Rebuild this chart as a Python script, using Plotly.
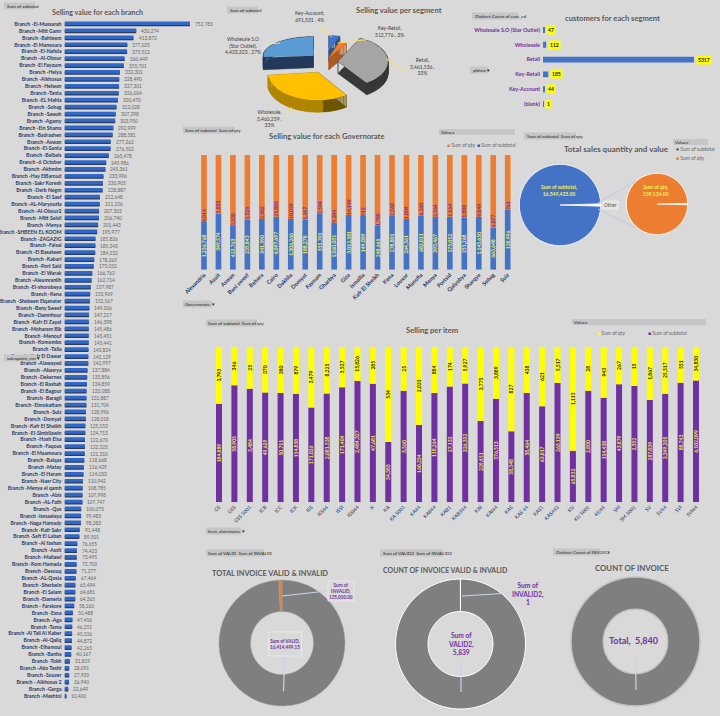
import math
import plotly.graph_objects as go

W, H = 720, 716
BG = "#d9d9d9"
FONT = "Lato"
NARROW = "Liberation Sans Narrow, Lato"

# ---------- data ----------
branch_names = ["El-Mussarah","Mitt Gamr","Bahteem","El Mansoura","El-Nahda","Al-Obour","El Fayoum","Helya","Alkhosus","Helwan","Tanta","EL Mahla","Sohag","Sawah","Agamy","Ein Shams","Badrashen","Aswan","El-Santa","Belbais","6 October","Akhmim","Hay ElBaroud","Sakr Koresh","Derb Negm","El Saef","AL-Maryoutia","Al-Obour2","Mitt Selsil","Menya","SHBEEN EL KOOM","ZAGAZIG","Faisal","El Basateen","Kabari","Port Said","El Warak","Aleumraniih","El-shorobeya","Kena","Shebeen Elqanater","Bany Sweef","Damnhour","Kafr El Zayat","Moharam Bik","Menouf","Komombo","Talla","Kafr El Dawar","Alawayed","Abasrya","Dekernes","El Rashah","El Bagour","Baragil","Elmokattam","Suiz","Domyat","Kafr El Sheikh","El-Simbllawin","Hosh Eisa","Faqous","El Maamoura","Balqas","Matay","El Haram","Nasr City","Menya el qamh","Abis","AL-Fath","Qus","Ismaeleya","Naga Hamady","Kafr Sakr","Saft El Laban","Al fashan","Assit","Mallawi","Kom Hamada","Desouq","AL-Qosia","Sherbein","El Salam","Elameria"," Farskore","Esna","Aga","Tama","Al Tall Al Kaber","Al-Qaliq","Elhamoul","Banha","Tokh","Abo Tesht","Souzer"," Alkhosus 2","Gerga","Mashtol"]
branch_values = [752783,430274,413872,377025,375512,360449,355701,332301,328490,327301,326004,320470,312028,307398,303950,292999,288581,277262,276502,265478,249986,245361,233996,230905,228887,212648,211226,207303,206740,201443,195977,185826,185243,184232,178265,175052,166762,162714,157987,153969,152567,149206,147217,146398,145486,145451,145441,143824,143129,142997,137884,135896,134859,132088,131887,131704,128996,128018,125153,124713,122670,122525,121310,118668,116429,114033,110942,108785,107998,107747,100073,99483,98283,91448,89501,76655,74423,73495,72703,71377,67464,65494,64681,64365,58260,50488,47456,46251,45526,44872,42265,40167,31819,28091,27933,26940,22649,10400]

segments = ["Key-Account","Key-Retail","Retail","Wholesale","Wholesale S.O (Star Outlet)"]
segment_values = [691531,512776,5461536,5460259,4423323]
segment_colors = ["#4472c4","#ed7d31","#a5a5a5","#ffc000","#5b9bd5"]
segment_dark = ["#2f528f","#ad5a22","#404040","#b08600","#22395a"]
segment_dark_right = ["#2f528f","#ad5a22","#383838","#6e5600","#22395a"]

cust_segments = ["Wholesale S.O (Star Outlet)","Wholesale","Retail","Key-Retail","Key-Account","(blank)"]
cust_counts = [47,112,5317,185,44,1]

governorates = ["Alexandria","Asuit","Aswan","Bani sweef","Behera","Cairo","Dakhlia","Domyat","Fayoum","Gharbya","Giza","Ismailia","Kafr El Sheikh","Kena","Louxor","Manofia","Menya","Portsid","Qalyobya","Sharqya","Sohag","Suiz"]
gov_subtotal = [1236768,349574,423763,235843,341590,4097697,1306266,188278,355701,1060031,3012581,149009,248661,278801,264561,682021,393467,175052,251268,1145650,663648,128996]
gov_qty = [8014,1835,3330,1526,2302,25805,10059,1287,2594,9284,14199,912,1789,2260,1804,6260,2564,1164,1800,9849,6077,761]
gov_subtotal_share = [.416,.491,.381,.436,.442,.462,.442,.436,.485,.41,.477,.468,.381,.468,.442,.471,.459,.462,.453,.462,.369,.52]

items = ["GS","GSS","GSS 5001","ICB","ICC","ICK","ISS","ISS44","ISSI","ISSI44","K","KA","KA 5001","KA44","KA844","KAB1","KAB344","KAI","KAI44","KAS","KAS 44","KAS1","KAS443","KIJ","KIJ 5001","KIJ44","SM","SM 5001","SV","SV44","SVI","SVI44"]
item_subtotal = [184889,58905,3484,49629,50711,114838,171026,2081538,171404,2484327,47681,34383,3560,160234,118264,27132,326332,229451,376513,58348,58464,63817,263139,65832,2800,114438,43879,2352,287839,3349205,88743,6102099]
item_qty = [3793,346,25,370,380,879,3479,8225,3527,15826,285,534,25,2033,884,174,5927,3775,3889,827,438,621,5517,1115,28,943,267,15,1867,25517,551,34830]
item_subtotal_share = [.634,.752,.730,.705,.702,.698,.610,.700,.739,.779,.762,.388,.717,.497,.702,.745,.764,.522,.666,.456,.702,.617,.767,.332,.717,.672,.758,.747,.657,.698,.769,.782]

total_subtotal = 16549425
total_qty = 159126
qty_pie_rest = 1100
valid_total, invalid_total = 16414499.15, 135000
valid_count, invalid_count = 5839, 1
invoice_count = 5840

# ---------- pixel helpers ----------
def xd(a, b): return [a / W, b / W]
def yd(top, bottom): return [1 - bottom / H, 1 - top / H]

fig = go.Figure()
ann = []
shp = []

def txt(x, y, s, size=6, color="#595959", bold=False, bg=None, border=None, xa="center", pad=0, align="center", family=FONT):
    d = dict(xref="paper", yref="paper", x=x / W, y=1 - y / H, text=s, showarrow=False,
             xanchor=xa, yanchor="middle", align=align, borderpad=pad,
             font=dict(family=family, size=size, color=color, weight=700 if bold else 400))
    if bg: d["bgcolor"] = bg
    if border: d["bordercolor"] = border; d["borderwidth"] = 1
    ann.append(d)

def tag(x0, x1, y, s):
    shp.append(dict(type="rect", xref="paper", yref="paper", x0=x0 / W, x1=x1 / W, y0=1 - (y - 3.5) / H, y1=1 - (y + 3.5) / H,
                    fillcolor="#c6c6c6", line_width=0, layer="above"))
    txt(x0 + 1.5, y, s, size=4.6, color="#222222", xa="left", family=NARROW)

def line(x0, y0, x1, y1, color, w=1):
    shp.append(dict(type="line", xref="paper", yref="paper", x0=x0 / W, x1=x1 / W, y0=1 - y0 / H, y1=1 - y1 / H,
                    line=dict(color=color, width=w), layer="above"))

def title(x, y, s, size=7.6, color="#595959"):
    txt(x, y, s, size=size, color=color, bold=True)

# ---------- branch bars ----------
fig.add_bar(x=branch_values, y=branch_names, orientation="h", width=.46, offset=-.12,
            marker=dict(color="#2b3c5e", line_width=0), xaxis="x", yaxis="y", hoverinfo="skip")
fig.add_bar(x=branch_values, y=branch_names, orientation="h", width=.5, offset=-.34,
            marker=dict(color="#2f68c8", line_width=0), xaxis="x", yaxis="y", hoverinfo="skip")
for n_, v in zip(branch_names, branch_values):
    ann.append(dict(xref="x", yref="y", x=v, y=n_, text=f"{v:,}", showarrow=False, xanchor="left", xshift=3,
                    font=dict(family=NARROW, size=4.8, color="#666666")))
branch_labels = ["Branch -" + n for n in branch_names]
xaxes = dict(xaxis=dict(domain=xd(64.5, 190), range=[0, 752783], visible=False, fixedrange=True),
             yaxis=dict(domain=yd(20.5, 699.5), range=[97.5, -.5], type="category", anchor="x", tickmode="array",
                        tickvals=branch_names, ticktext=branch_labels, showgrid=False, ticks="", showline=False,
                        ticklabelstandoff=2,
                        tickfont=dict(family=NARROW, size=5.1, color="#1f3864", weight=700), fixedrange=True))

# ---------- customers per segment ----------
fig.add_bar(x=cust_counts, y=cust_segments, orientation="h", width=.4, marker=dict(color="#4472c4", line_width=0),
            xaxis="x2", yaxis="y2", hoverinfo="skip")
xaxes.update(xaxis2=dict(domain=xd(543, 694), range=[0, 5317], visible=False, anchor="y2", fixedrange=True),
             yaxis2=dict(domain=yd(22.6, 111.4), range=[5.5, -.5], type="category", anchor="x2", tickmode="array",
                         tickvals=cust_segments, ticktext=cust_segments, showgrid=False, ticks="", showline=False,
                         ticklabelstandoff=2,
                         tickfont=dict(family=NARROW, size=5.4, color="#7030a0", weight=700), fixedrange=True))
for c, v in zip(cust_segments, cust_counts):
    ann.append(dict(xref="x2", yref="y2", x=v, y=c, text=str(v), showarrow=False, xanchor="left", xshift=2,
                    bgcolor="#ffff00", borderpad=1, font=dict(family=NARROW, size=5, color="#222222", weight=700)))

# ---------- stacked 100 % columns ----------
def stacked(cats, low, high, share, low_col, high_col, low_txt, high_txt, xn, yn, high_anchor):
    rest = [1 - s for s in share]
    fig.add_bar(x=cats, y=share, width=.39, marker=dict(color=low_col, line_width=0), xaxis=xn, yaxis=yn,
                text=[f"{v:,}" for v in low], textposition="inside", insidetextanchor="middle", textangle=-90,
                constraintext="none", textfont=dict(family=NARROW, size=5, color=low_txt, weight=700), hoverinfo="skip")
    fig.add_bar(x=cats, y=rest, base=share, width=.39, marker=dict(color=high_col, line_width=0), xaxis=xn, yaxis=yn,
                text=[f"{v:,}" for v in high], textposition="inside", insidetextanchor=high_anchor, textangle=-90,
                constraintext="none", textfont=dict(family=NARROW, size=5, color=high_txt, weight=700), hoverinfo="skip")

stacked(governorates, gov_subtotal, gov_qty, gov_subtotal_share, "#4472c4", "#ed7d31", "#f2f25a", "#7030a0", "x3", "y3", "start")
n = len(governorates)
xaxes.update(xaxis3=dict(domain=xd(204 - 7.23, 507.7 + 7.23), range=[-.5, n - .5], type="category", anchor="y3", tickmode="array",
                         tickvals=governorates, ticktext=governorates, tickangle=-45, showgrid=False, ticks="", showline=False,
                         tickfont=dict(family=NARROW, size=5.6, color="#1f3864", weight=700), fixedrange=True),
             yaxis3=dict(domain=yd(155, 269.7), range=[0, 1], visible=False, anchor="x3", fixedrange=True))

stacked(items, item_subtotal, item_qty, item_subtotal_share, "#7030a0", "#ffff00", "#f2e94e", "#222222", "x4", "y4", "middle")
m = len(items)
xaxes.update(xaxis4=dict(domain=xd(219 - 7.68, 696 + 7.68), range=[-.5, m - .5], type="category", anchor="y4", tickmode="array",
                         tickvals=items, ticktext=items, tickangle=-45, showgrid=False, ticks="", showline=False,
                         tickfont=dict(family=NARROW, size=5, color="#1f3864"), fixedrange=True),
             yaxis4=dict(domain=yd(346.7, 502.3), range=[0, 1], visible=False, anchor="x4", fixedrange=True))

# ---------- exploded 3-D segment pie, angles computed from the values ----------
xaxes.update(xaxis5=dict(domain=[0, 1], range=[0, W], visible=False, anchor="y5", fixedrange=True),
             yaxis5=dict(domain=[0, 1], range=[H, 0], visible=False, anchor="x5", fixedrange=True))
PC = (326, 62)
seg_pull = [22, 8, 12, 20, 17]
seg_rx = [42, 40, 50, 50, 50]
seg_ry = [14, 16, 26, 28, 19]
DEPTH = 12
tot = sum(segment_values)
spans, acc = [], 0
for v in segment_values:
    spans.append((acc / tot * 2 * math.pi, (acc + v) / tot * 2 * math.pi))
    acc += v
for i in [4, 0, 1, 2, 3]:
    a0, a1 = spans[i]
    mid = (a0 + a1) / 2
    ax = PC[0] + seg_pull[i] * math.sin(mid)
    ay = PC[1] - seg_pull[i] * math.cos(mid) * .56
    steps = max(4, int((a1 - a0) * 30))
    pts = [(ax, ay)] + [(ax + seg_rx[i] * math.sin(a0 + (a1 - a0) * k / steps),
                         ay - seg_ry[i] * math.cos(a0 + (a1 - a0) * k / steps)) for k in range(steps + 1)] + [(ax, ay)]
    lx, ly, rx_, ry_ = [], [], [], []
    for (x0, y0), (x1, y1) in zip(pts[:-1], pts[1:]):
        tx, ty = (rx_, ry_) if (x0 + x1) / 2 > ax + 6 else (lx, ly)
        tx += [x0, x1, x1, x0, x0, None]
        ty += [y0, y1, y1 + DEPTH, y0 + DEPTH, y0, None]
    for qx, qy, col in [(lx, ly, segment_dark[i]), (rx_, ry_, segment_dark_right[i])]:
        if qx:
            fig.add_scatter(x=qx, y=qy, mode="lines", fill="toself", fillcolor=col, line=dict(width=.5, color=col),
                            xaxis="x5", yaxis="y5", hoverinfo="skip", showlegend=False)
    fig.add_scatter(x=[p[0] for p in pts], y=[p[1] for p in pts], mode="lines", fill="toself", fillcolor=segment_colors[i],
                    line=dict(width=0, color=segment_colors[i]), xaxis="x5", yaxis="y5", hoverinfo="skip", showlegend=False)

# ---------- native pies ----------
def pie(values, colors, cx, cy, r, hole=0, rotation=0, lw=1, lc="#ffffff"):
    fig.add_pie(values=values, domain=dict(x=xd(cx - r, cx + r), y=yd(cy - r, cy + r)), hole=hole, rotation=rotation,
                sort=False, direction="clockwise", textinfo="none", hoverinfo="skip", showlegend=False,
                marker=dict(colors=colors, line=dict(color=lc, width=lw)))

other_frac = total_qty / (total_qty + total_subtotal) * 360
pie([total_qty, total_subtotal], ["#f4f4f4", "#4472c4"], 560, 205, 40.7, rotation=90 - other_frac / 2, lw=.8)
pie([qty_pie_rest, total_qty], ["#e0d4c8", "#ed7d31"], 657, 204, 30.7, rotation=89, lw=.8)
pie([valid_total, invalid_total], ["#7f7f7f", "#ed7d31"], 282, 643, 63, hole=.5, lw=.5, lc="#a0a0a0")
pie([valid_count, invalid_count], ["#7f7f7f", "#ffffff"], 460.5, 644, 65, hole=.5, lw=1)
pie([invoice_count], ["#7f7f7f"], 635.5, 641.5, 64.5, hole=.5, lw=1.5, lc="#c4c4c4")

# ---------- titles, tags, legends, labels ----------
title(97, 12, "Selling value for each branch", 7.2)
tag(4, 35, 6, "Sum of subtotal")
tag(4, 37, 358, "salespoint_nm ▾")

tag(227, 258, 10, "Sum of subtotal")
title(399, 10, "Selling value per segment", 7.6)
for x, y, s in [(309, 17, "Key-Account,<br>691,531 , 4%"), (389, 31, "Key-Retail,<br>512,776 , 3%"),
                (422, 66, "Retail,<br>5,461,536 ,<br>33%"), (269, 118, "Wholesale,<br>5,460,259 ,<br>33%"),
                (243, 45, "Wholesale S.O<br>(Star Outlet),<br>4,423,323 , 27%")]:
    txt(x, y, s, size=5, color="#404040")
for p in [(318, 25, 332, 37), (338, 43, 372, 39), (386, 59, 407, 72), (292, 107, 283, 117), (268, 44, 280, 43)]:
    line(*p, "#ffe45c")

tag(472, 518, 16, "Distinct Count of cust_cd")
tag(470, 488, 70, "pfdnm ▾")
title(612, 18, "customers for each segment", 7.6)

tag(183, 235, 130, "Sum of subtotal  Sum of qty")
title(326, 136, "Selling value for each Governorate", 7.6)
shp.append(dict(type="rect", xref="paper", yref="paper", x0=439 / W, x1=515 / W, y0=1 - 129 / H, y1=1 - 135 / H, fillcolor="#c6c6c6", line_width=0))
txt(440, 132, "Values", size=4.6, color="#222222", xa="left", family=NARROW)
txt(446, 145, '<span style="color:#ed7d31">■</span> Sum of qty', size=5, color="#666666", xa="left", family=NARROW)
txt(476, 145, '<span style="color:#2f5597">■</span> Sum of subtotal', size=5, color="#666666", xa="left", family=NARROW)
tag(183, 212, 304, "Governorate ▾")

tag(524, 576, 136, "Sum of subtotal  Sum of qty")
title(616, 149, "Total sales quantity and value", 8)
shp.append(dict(type="rect", xref="paper", yref="paper", x0=673 / W, x1=708 / W, y0=1 - 139 / H, y1=1 - 145 / H, fillcolor="#c6c6c6", line_width=0))
txt(674, 142, "Values", size=4.6, color="#222222", xa="left", family=NARROW)
txt(675, 149, '<span style="color:#2f5597">●</span> Sum of subtotal', size=5, color="#666666", xa="left", family=NARROW)
txt(675, 158, '<span style="color:#ed7d31">■</span> Sum of qty', size=5, color="#666666", xa="left", family=NARROW)
txt(559, 191, "Sum of subtotal,<br>16,549,425.00", size=5, color="#f2f25a", bold=True)
txt(656, 191, "Sum of qty,<br>159,126.00", size=5, color="#f2f25a", bold=True)
for p in [(598, 203, 636, 181), (598, 209, 636, 228)]:
    line(*p, "#b9cde8", 1)
shp.append(dict(type="rect", xref="paper", yref="paper", x0=603 / W, x1=618 / W, y0=1 - 201 / H, y1=1 - 209 / H, fillcolor="#e4e4e4", line=dict(color="#f2f2f2", width=.7), layer="above"))
txt(610.5, 205, "Other", size=4.8, color="#555555")

tag(206, 257, 323, "Sum of subtotal  Sum of qty")
title(432, 330, "Selling per item", 7.6)
shp.append(dict(type="rect", xref="paper", yref="paper", x0=572 / W, x1=706 / W, y0=1 - 319 / H, y1=1 - 325 / H, fillcolor="#c6c6c6", line_width=0))
txt(573, 322, "Values", size=4.6, color="#222222", xa="left", family=NARROW)
txt(596, 333, '<span style="color:#ffff00">■</span> Sum of qty', size=5, color="#666666", xa="left", family=NARROW)
txt(647, 333, '<span style="color:#7030a0">■</span> Sum of subtotal', size=5, color="#666666", xa="left", family=NARROW)
tag(206, 241, 531, "item_shortname ▾")

tag(206, 264, 553, "Sum of VALID  Sum of INVALID")
title(270, 573, "TOTAL INVOICE VALID &amp; INVALID", 7.4)
line(284.5, 657, 283.5, 691, "#c5d5ea", 1.2)
line(327, 591, 282, 596, "#c5d5ea", 1.2)
shp.append(dict(type="rect", xref="paper", yref="paper", x0=268.5 / W, x1=301.5 / W, y0=1 - 632 / H, y1=1 - 656 / H, fillcolor=BG, line=dict(color="#ececec", width=.8), layer="above"))
shp.append(dict(type="rect", xref="paper", yref="paper", x0=328 / W, x1=354 / W, y0=1 - 581 / H, y1=1 - 601 / H, fillcolor=BG, line=dict(color="#ececec", width=.8), layer="above"))
txt(285, 644, "Sum of VALID,<br>16,414,499.15", size=4.6, color="#7030a0", bold=True)
txt(341, 591, "Sum of<br>INVALID,<br>135,000.00", size=4.6, color="#7030a0", bold=True)

tag(380, 443, 553, "Sum of VALID2  Sum of INVALID2")
title(445, 570, "COUNT OF INVOICE VALID &amp; INVALID", 7)
line(461, 660, 461, 692, "#c5d5ea", 1.2)
line(510, 593, 462, 596, "#c5d5ea", 1.2)
txt(461, 644, "Sum of<br>VALID2,<br>5,839", size=6.6, color="#7030a0", bold=True)
txt(528, 593, "Sum of<br>INVALID2,<br>1", size=6.6, color="#7030a0", bold=True)

tag(553, 600, 552, "Distinct Count of INVOICE")
title(632, 568, "COUNT OF INVOICE", 7.8)
line(635.5, 655, 636, 690, "#c5d5ea", 1.2)
txt(633, 640, "Total,  5,840", size=9, color="#7030a0", bold=True)

fig.update_layout(width=W, height=H, margin=dict(l=0, r=0, t=0, b=0, autoexpand=False), paper_bgcolor=BG, plot_bgcolor="rgba(0,0,0,0)",
                  barmode="overlay", showlegend=False, annotations=ann, shapes=shp, font=dict(family=FONT),
                  uniformtext=dict(mode=False), **xaxes)

fig.write_html("out.html", config=dict(displayModeBar=False),
               post_script="document.body.style.margin='0';document.body.style.background='#d9d9d9';")
